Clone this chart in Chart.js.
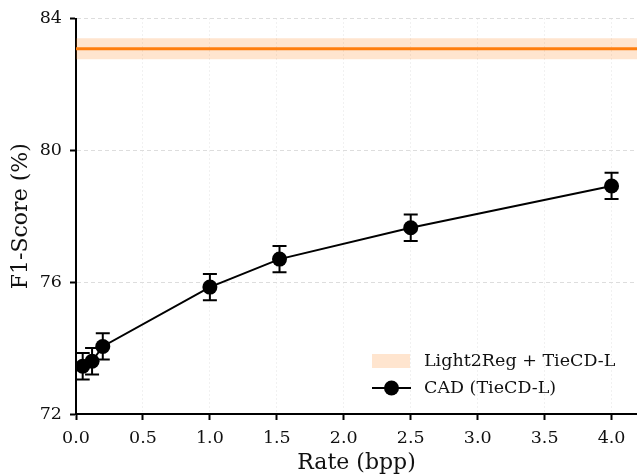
<!DOCTYPE html>
<html>
<head>
<meta charset="utf-8">
<script src="https://cdn.jsdelivr.net/npm/chart.js@4.4.1/dist/chart.umd.min.js"></script>
<style>
  html, body { margin: 0; padding: 0; background: #fff; }
  #wrap { width: 637px; height: 476px; }
</style>
</head>
<body>
<div id="wrap"><canvas id="rdChart" width="637" height="476"></canvas></div>
<script>
// CAD (TieCD-L) rate / F1 points
const rates = [0.05, 0.12, 0.2, 1.0, 1.52, 2.5, 4.0]
const f1Scores = [73.45, 73.6, 74.05, 75.85, 76.7, 77.65, 78.92]
const f1Err = [0.4, 0.4, 0.4, 0.4, 0.4, 0.4, 0.4]

// Light2Reg + TieCD-L reference (mean and spread)
const bandX = [0, 4.19]
const baselineMean = [83.08, 83.08]
const baselineStd = [0.32, 0.32]

const xTicks = [0, 0.5, 1, 1.5, 2, 2.5, 3, 3.5, 4]
const yTicks = [72, 76, 80, 84]

const serif = "'DejaVu Serif', serif"
const orange = "#ff7f0e"
const bandFill = "rgba(255,127,14,0.2)"
const ink = "#111"

//error bars for the CAD series
const errorBars = {
    id: "errorBars",
    afterDatasetsDraw(chart) {
        const ctx = chart.ctx
        const xs = chart.scales.x, ys = chart.scales.y
        ctx.save()
        ctx.strokeStyle = "#000"
        ctx.lineWidth = 2
        rates.forEach((r, i) => {
            const px = xs.getPixelForValue(r)
            const top = ys.getPixelForValue(f1Scores[i] + f1Err[i])
            const bot = ys.getPixelForValue(f1Scores[i] - f1Err[i])
            ctx.beginPath()
            ctx.moveTo(px, top); ctx.lineTo(px, bot)
            ctx.moveTo(px - 7, top); ctx.lineTo(px + 7, top)
            ctx.moveTo(px - 7, bot); ctx.lineTo(px + 7, bot)
            ctx.stroke()
        })
        // markers on top
        ctx.fillStyle = "#000"
        rates.forEach((r, i) => {
            ctx.beginPath()
            ctx.arc(xs.getPixelForValue(r), ys.getPixelForValue(f1Scores[i]), 7.5, 0, Math.PI * 2)
            ctx.fill()
        })
        ctx.restore()
    }
}

//legend drawn inside the plot, bottom right
const cornerLegend = {
    id: "cornerLegend",
    afterDraw(chart) {
        const ctx = chart.ctx
        const area = chart.chartArea
        const x0 = area.right - 265
        const y1 = area.bottom - 53
        const y2 = area.bottom - 26
        ctx.save()
        ctx.fillStyle = bandFill
        ctx.fillRect(x0, y1 - 7, 38, 14)
        ctx.strokeStyle = "#000"
        ctx.lineWidth = 2
        ctx.beginPath()
        ctx.moveTo(x0, y2); ctx.lineTo(x0 + 39, y2)
        ctx.stroke()
        ctx.fillStyle = "#000"
        ctx.beginPath()
        ctx.arc(x0 + 19.5, y2, 7.5, 0, Math.PI * 2)
        ctx.fill()
        ctx.font = "17.5px " + serif
        ctx.textBaseline = "middle"
        ctx.fillStyle = ink
        ctx.fillText("Light2Reg + TieCD-L", x0 + 52, y1)
        ctx.fillText("CAD (TieCD-L)", x0 + 52, y2)
        ctx.restore()
    }
}

const upper = bandX.map((x, i) => ({ x: x, y: baselineMean[i] + baselineStd[i] }))
const lower = bandX.map((x, i) => ({ x: x, y: baselineMean[i] - baselineStd[i] }))

new Chart(document.getElementById("rdChart"), {
    type: "line",
    data: {
        datasets: [
            { label: "band-up", data: upper, borderWidth: 0, pointRadius: 0, fill: false, backgroundColor: bandFill },
            { label: "Light2Reg + TieCD-L", data: lower, borderWidth: 0, pointRadius: 0, fill: "-1", backgroundColor: bandFill },
            { label: "mean", data: bandX.map((x, i) => ({ x: x, y: baselineMean[i] })), borderColor: orange, borderWidth: 3, pointRadius: 0, fill: false },
            {
                label: "CAD (TieCD-L)",
                data: rates.map((r, i) => ({ x: r, y: f1Scores[i] })),
                borderColor: "#000", borderWidth: 2, pointRadius: 0, fill: false, clip: false
            }
        ]
    },
    options: {
        responsive: false,
        animation: false,
        layout: { padding: { top: 15, right: 0, left: 0, bottom: 0 } },
        plugins: { legend: { display: false }, tooltip: { enabled: false } },
        scales: {
            x: {
                type: "linear",
                min: 0, max: 4.19,
                afterFit: s => { s.height = 62 },
                afterBuildTicks: s => { s.ticks = xTicks.map(v => ({ value: v })) },
                ticks: { font: { family: serif, size: 17.5 }, color: ink, padding: 8, callback: v => v.toFixed(1) },
                grid: { color: "#e2e2e2", lineWidth: 1, tickColor: "#000", tickLength: 6, tickWidth: 2 },
                border: { color: "#000", width: 2, dash: [1, 3] },
                title: { display: true, text: "Rate (bpp)", font: { family: serif, size: 22 }, color: ink, padding: { top: 0, bottom: 0 } }
            },
            y: {
                min: 72, max: 84,
                afterFit: s => { s.width = 76 },
                afterBuildTicks: s => { s.ticks = yTicks.map(v => ({ value: v })) },
                ticks: { font: { family: serif, size: 17.5 }, color: ink, padding: 8 },
                grid: { color: "#dddddd", lineWidth: 1, tickColor: "#000", tickLength: 6, tickWidth: 2 },
                border: { color: "#000", width: 2, dash: [4, 3] },
                title: { display: true, text: "F1-Score (%)", font: { family: serif, size: 22 }, color: ink, padding: { top: 8, bottom: 4 } }
            }
        }
    },
    plugins: [errorBars, cornerLegend]
})
</script>
</body>
</html>
